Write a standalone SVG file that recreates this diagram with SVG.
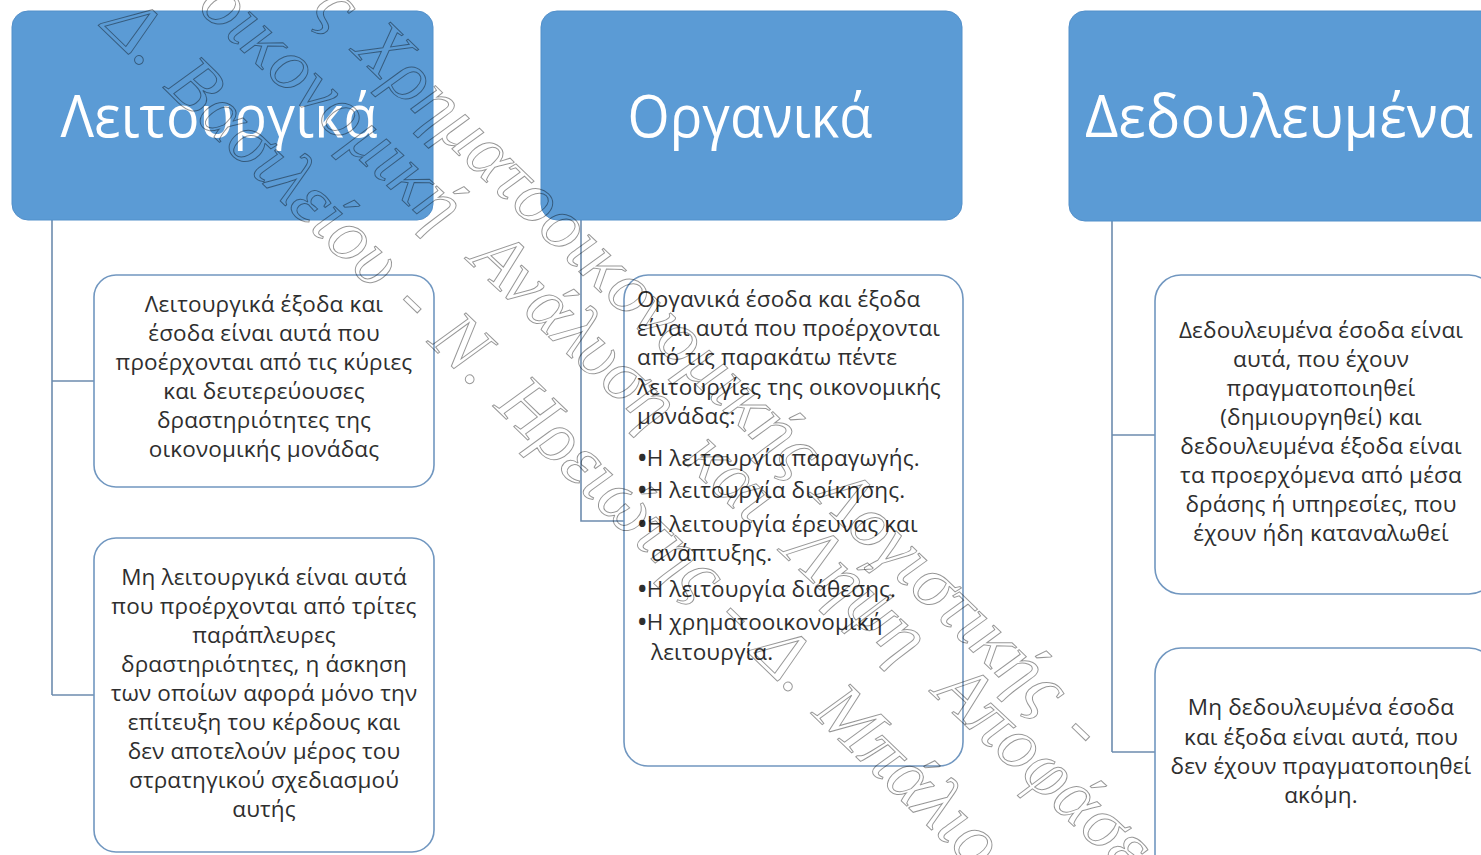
<svg xmlns="http://www.w3.org/2000/svg" width="1481" height="855" viewBox="0 0 1481 855">
<style>
.hdr{fill:#5B9BD5;stroke:#5390CA;stroke-width:1}
.hdrt{fill:#FFFFFF;font-family:"Open Sans","Noto Sans",sans-serif;font-size:58px;text-anchor:middle}
.card{fill:#FFFFFF;stroke:#7197C0;stroke-width:1.6}
.body{fill:#2E2E2E;font-family:"Open Sans","Noto Sans",sans-serif;font-size:22.5px;letter-spacing:0.15px}
.c{text-anchor:middle}
.b{font-weight:bold}
.conn{stroke:#6D8CAE;stroke-width:1.6;fill:none}
.wm{fill:none;stroke:#000000;stroke-opacity:0.42;stroke-width:1;font-family:"Liberation Serif",serif;font-style:italic;font-size:74px}
</style>
<rect width="1481" height="855" fill="#FFFFFF"/>
<g id="connectors">
<path class="conn" d="M52,220 V695 M52,381 H94 M52,695 H94"/>
<path class="conn" d="M581,220 V521 H624"/>
<path class="conn" d="M1112,221 V752 M1112,435 H1155 M1112,752 H1155"/>
</g>
<g id="leitourgika">
<rect class="hdr" x="12" y="11" width="421" height="209" rx="16"/>
<text class="hdrt" x="219" y="137" textLength="317" lengthAdjust="spacingAndGlyphs">Λειτουργικά</text>
</g>
<g id="organika">
<rect class="hdr" x="541" y="11" width="421" height="209" rx="16"/>
<text class="hdrt" x="750" y="137" textLength="245" lengthAdjust="spacingAndGlyphs">Οργανικά</text>
</g>
<g id="dedoulevmena">
<rect class="hdr" x="1069" y="11" width="430" height="210" rx="16"/>
<text class="hdrt" x="1279" y="137" textLength="388" lengthAdjust="spacingAndGlyphs">Δεδουλευμένα</text>
</g>
<g id="leit-1">
<rect class="card" x="94" y="275" width="340" height="212" rx="22"/>
<text class="body c" x="264" y="312">Λειτουργικά έξοδα και</text>
<text class="body c" x="264" y="341">έσοδα είναι αυτά που</text>
<text class="body c" x="264" y="370">προέρχονται από τις κύριες</text>
<text class="body c" x="264" y="399">και δευτερεύουσες</text>
<text class="body c" x="264" y="428">δραστηριότητες της</text>
<text class="body c" x="264" y="457">οικονομικής μονάδας</text>
</g>
<g id="leit-2">
<rect class="card" x="94" y="538" width="340" height="314" rx="22"/>
<text class="body c" x="264" y="585">Μη λειτουργικά είναι αυτά</text>
<text class="body c" x="264" y="614">που προέρχονται από τρίτες</text>
<text class="body c" x="264" y="643">παράπλευρες</text>
<text class="body c" x="264" y="672">δραστηριότητες, η άσκηση</text>
<text class="body c" x="264" y="701">των οποίων αφορά μόνο την</text>
<text class="body c" x="264" y="730">επίτευξη του κέρδους και</text>
<text class="body c" x="264" y="759">δεν αποτελούν  μέρος του</text>
<text class="body c" x="264" y="788">στρατηγικού σχεδιασμού</text>
<text class="body c" x="264" y="817">αυτής</text>
</g>
<g id="organ-1">
<rect class="card" x="624" y="275" width="339" height="491" rx="24"/>
<text class="body" x="637" y="307">Οργανικά έσοδα και έξοδα</text>
<text class="body" x="637" y="336">είναι αυτά που προέρχονται</text>
<text class="body" x="637" y="365">από τις παρακάτω  πέντε</text>
<text class="body" x="637" y="395">λειτουργίες της οικονομικής</text>
<text class="body" x="637" y="424">μονάδας:</text>
<text class="body" x="638" y="466"><tspan class="b">•</tspan>Η λειτουργία παραγωγής.</text>
<text class="body" x="638" y="498"><tspan class="b">•</tspan>Η λειτουργία διοίκησης.</text>
<text class="body" x="638" y="532"><tspan class="b">•</tspan>Η λειτουργία έρευνας και</text>
<text class="body" x="651" y="561">ανάπτυξης.</text>
<text class="body" x="638" y="597"><tspan class="b">•</tspan>Η λειτουργία διάθεσης.</text>
<text class="body" x="638" y="630"><tspan class="b">•</tspan>Η χρηματοοικονομική</text>
<text class="body" x="651" y="660">λειτουργία.</text>
</g>
<g id="dedoul-1">
<rect class="card" x="1155" y="275" width="340" height="319" rx="26"/>
<text class="body c" x="1321" y="338">Δεδουλευμένα  έσοδα είναι</text>
<text class="body c" x="1321" y="367">αυτά, που έχουν</text>
<text class="body c" x="1321" y="396">πραγματοποιηθεί</text>
<text class="body c" x="1321" y="425">(δημιουργηθεί) και</text>
<text class="body c" x="1321" y="454">δεδουλευμένα  έξοδα είναι</text>
<text class="body c" x="1321" y="483">τα προερχόμενα από μέσα</text>
<text class="body c" x="1321" y="512">δράσης ή υπηρεσίες, που</text>
<text class="body c" x="1321" y="541">έχουν ήδη καταναλωθεί</text>
</g>
<g id="dedoul-2">
<rect class="card" x="1155" y="648" width="340" height="240" rx="26"/>
<text class="body c" x="1321" y="715">Μη  δεδουλευμένα έσοδα</text>
<text class="body c" x="1321" y="745">και έξοδα είναι αυτά, που</text>
<text class="body c" x="1321" y="774">δεν έχουν πραγματοποιηθεί</text>
<text class="body c" x="1321" y="803">ακόμη.</text>
</g>
<g id="watermark">
<text class="wm" transform="translate(100,27) rotate(44)" word-spacing="6">Δ. Βασιλείου - Ν. Ηρειώτης - Δ. Μπάλιος</text>
<text class="wm" transform="translate(196,8) rotate(43)" word-spacing="24">οικονομική Ανάλυση και Λήψη Αποφάσεων</text>
<text class="wm" transform="translate(310,12) rotate(44)" font-size="78" word-spacing="8">ς Χρηματοοικονομικής Λογιστικής -</text>
</g>
</svg>
